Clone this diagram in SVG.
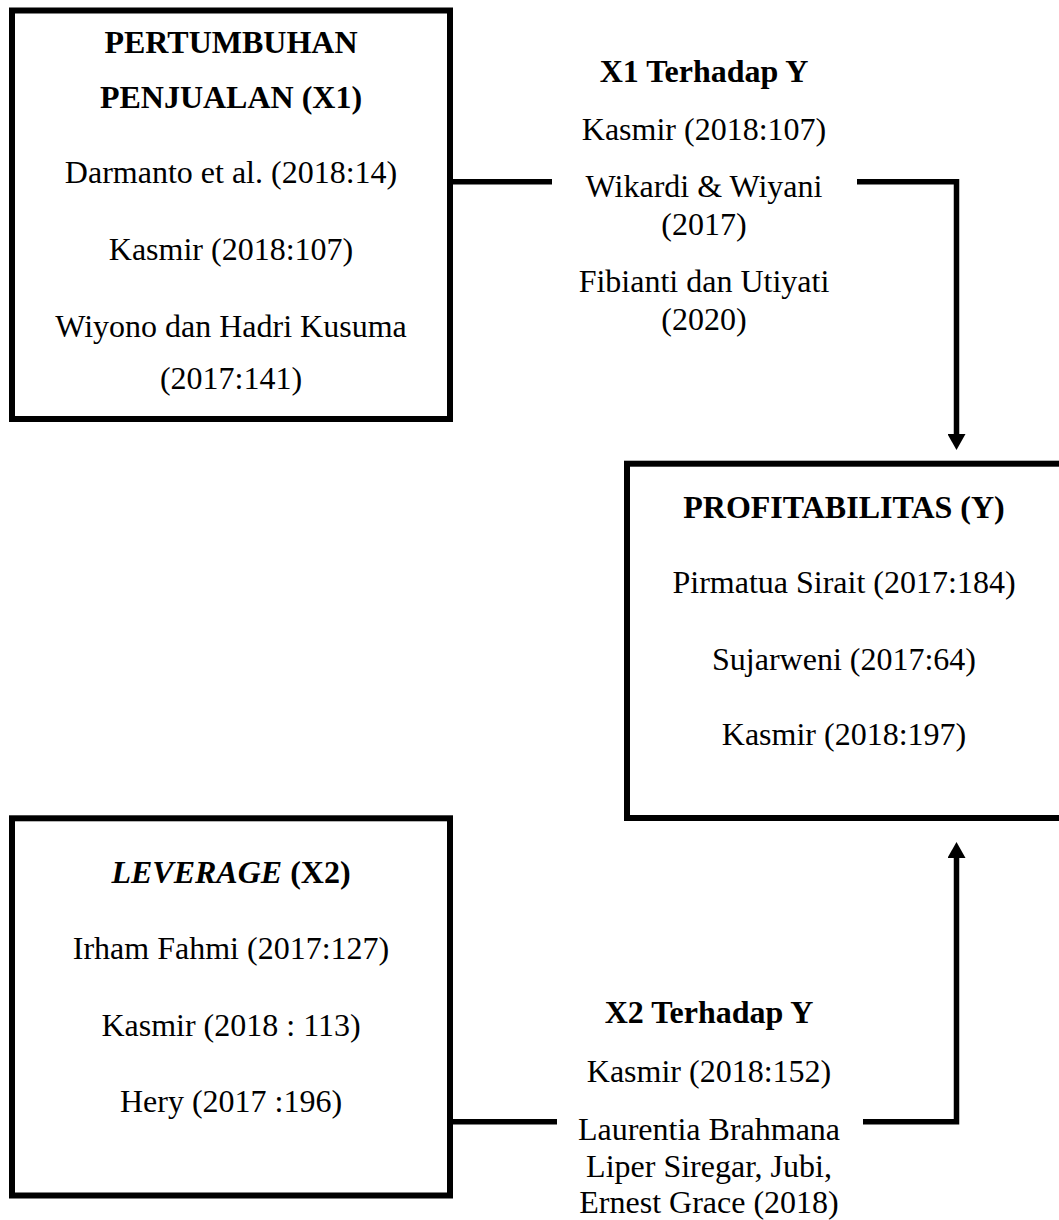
<svg xmlns="http://www.w3.org/2000/svg" width="1059" height="1220" viewBox="0 0 1059 1220">
<style>
.box{fill:#fff;stroke:#000;stroke-width:6}
.t{font-family:"Liberation Serif","Times New Roman",serif;font-size:32px;fill:#000;text-anchor:middle}
.b{font-weight:bold}
.i{font-style:italic}
.c{fill:none;stroke:#000;stroke-width:5.5;stroke-linejoin:miter;stroke-linecap:butt}
</style>
<defs>
<marker id="ah" markerUnits="userSpaceOnUse" markerWidth="16" markerHeight="18" viewBox="0 0 16 18" refX="0" refY="9" orient="auto">
<path d="M0,0 L16,9 L0,18 z" fill="#000"/>
</marker>
</defs>
<rect width="1059" height="1220" fill="#fff"/>
<g id="connectors">
<path class="c" d="M452,181.8 H552"/>
<path class="c" d="M857,181.8 H956.5 V434" marker-end="url(#ah)"/>
<path class="c" d="M452,1121.7 H557"/>
<path class="c" d="M863,1121.7 H956.5 V858" marker-end="url(#ah)"/>
</g>
<g id="x1">
<rect class="box" x="12" y="10.5" width="438" height="408.5"/>
<text class="t b" x="231" y="53">PERTUMBUHAN</text>
<text class="t b" x="231" y="108">PENJUALAN (X1)</text>
<text class="t" x="231" y="183">Darmanto et al. (2018:14)</text>
<text class="t" x="231" y="260">Kasmir (2018:107)</text>
<text class="t" x="231" y="337">Wiyono dan Hadri Kusuma</text>
<text class="t" x="231" y="389">(2017:141)</text>
</g>
<g id="x1y">
<text class="t b" x="704" y="82">X1 Terhadap Y</text>
<text class="t" x="704" y="140">Kasmir (2018:107)</text>
<text class="t" x="704" y="197">Wikardi &amp; Wiyani</text>
<text class="t" x="704" y="235">(2017)</text>
<text class="t" x="704" y="292">Fibianti dan Utiyati</text>
<text class="t" x="704" y="330">(2020)</text>
</g>
<g id="y">
<rect class="box" x="627" y="463.7" width="436" height="354.3"/>
<text class="t b" x="844" y="518">PROFITABILITAS (Y)</text>
<text class="t" x="844" y="593">Pirmatua Sirait (2017:184)</text>
<text class="t" x="844" y="670">Sujarweni (2017:64)</text>
<text class="t" x="844" y="745">Kasmir (2018:197)</text>
</g>
<g id="x2">
<rect class="box" x="12" y="818.3" width="438" height="377.2"/>
<text class="t b" x="231" y="883"><tspan class="i">LEVERAGE</tspan> (X2)</text>
<text class="t" x="231" y="959">Irham Fahmi (2017:127)</text>
<text class="t" x="231" y="1036">Kasmir (2018 : 113)</text>
<text class="t" x="231" y="1112">Hery (2017 :196)</text>
</g>
<g id="x2y">
<text class="t b" x="709" y="1023">X2 Terhadap Y</text>
<text class="t" x="709" y="1082">Kasmir (2018:152)</text>
<text class="t" x="709" y="1140">Laurentia Brahmana</text>
<text class="t" x="709" y="1177">Liper Siregar, Jubi,</text>
<text class="t" x="709" y="1213">Ernest Grace (2018)</text>
</g>
</svg>
